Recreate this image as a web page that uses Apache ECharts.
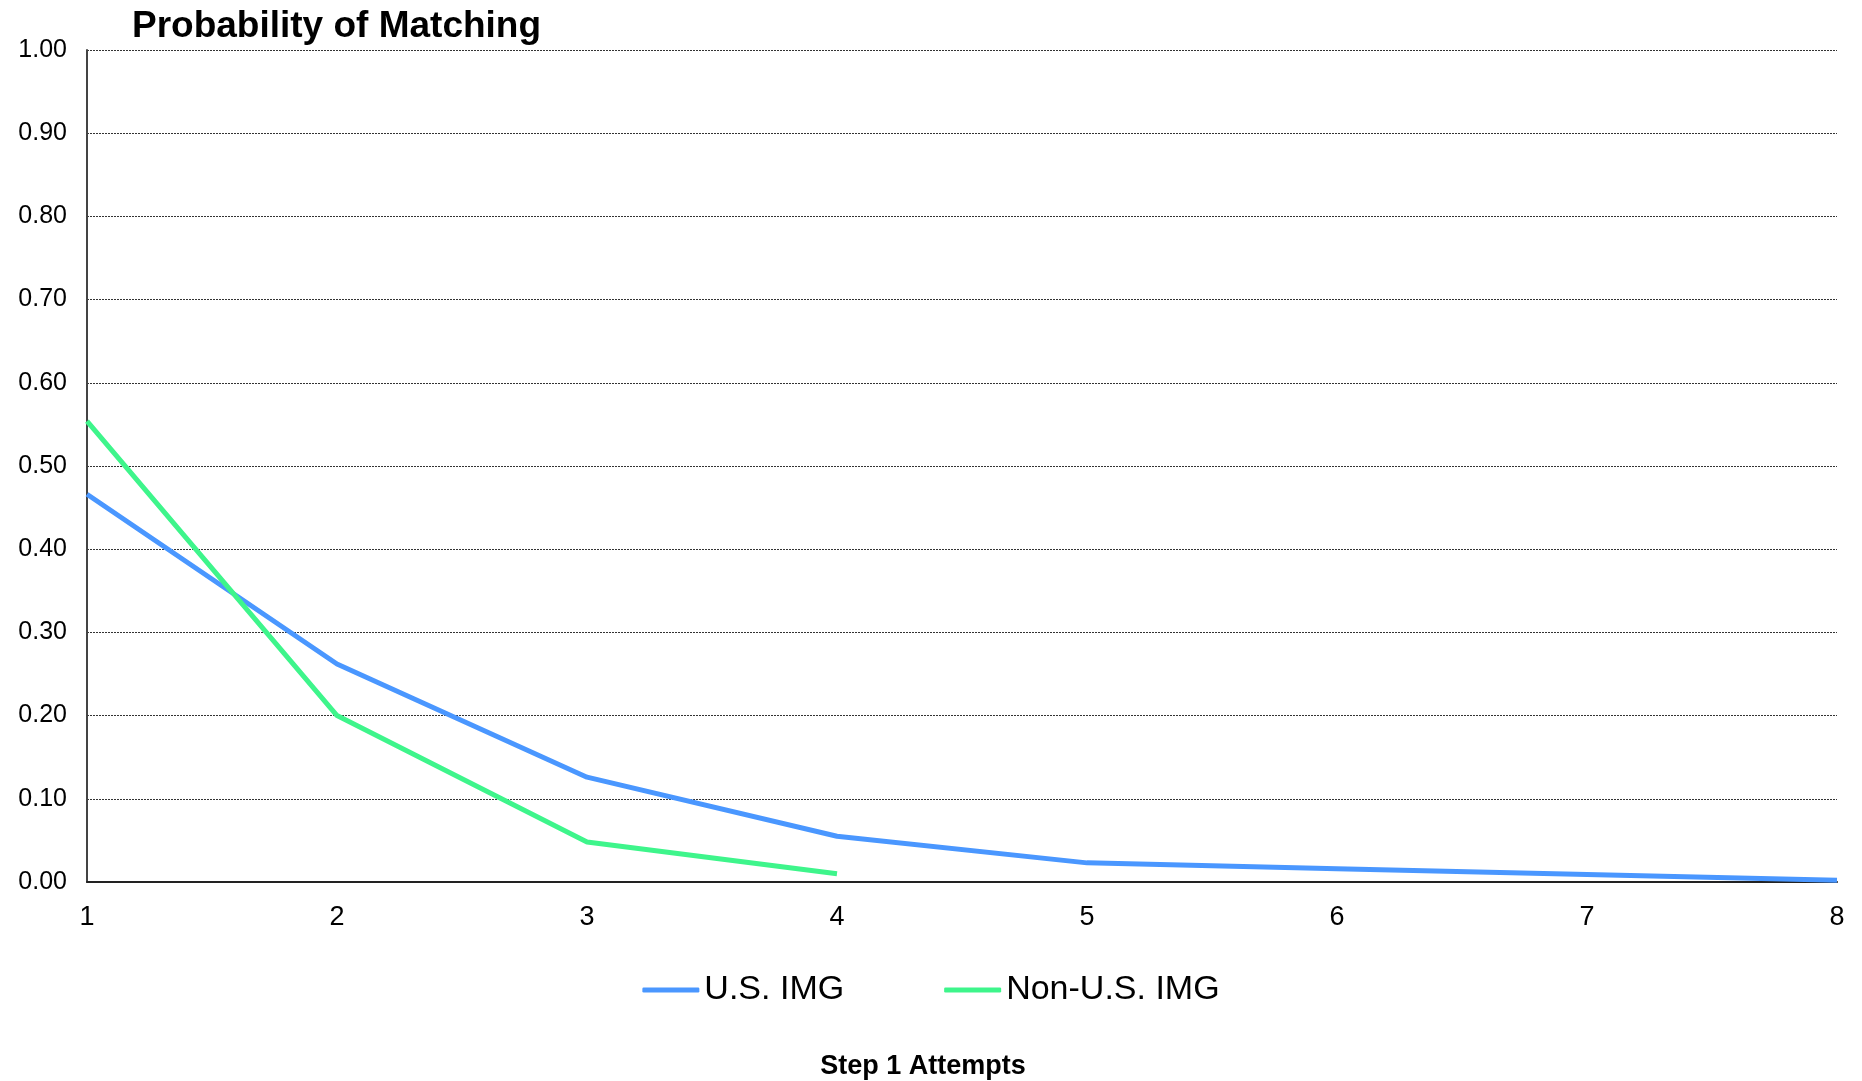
<!DOCTYPE html>
<html><head><meta charset="utf-8">
<script src="https://cdn.jsdelivr.net/npm/echarts@6/dist/echarts.min.js"></script>
<style>html,body{margin:0;padding:0;background:#fff}#c{width:1862px;height:1081px}</style>
</head><body><div id="c"></div>
<script>
const categories = ['1','2','3','4','5','6','7','8'];
const usImg = [0.466, 0.262, 0.126, 0.055, 0.023, 0.016, 0.009, 0.002];
const nonUsImg = [0.554, 0.200, 0.048, 0.010];
const seriesNames = ['U.S. IMG', 'Non-U.S. IMG'];
const font = 'Liberation Sans, Arial, sans-serif';
const chart = echarts.init(document.getElementById('c'));
chart.setOption({
  animation: false,
  backgroundColor: '#fff',
  title: [
    { text: 'Probability of Matching', left: 127, top: 3,
      textStyle: { fontFamily: font, fontSize: 37, fontWeight: 'bold', color: '#000' } },
    { text: 'Step 1 Attempts', left: 918, top: 1048, textAlign: 'center',
      textStyle: { fontFamily: font, fontSize: 27, fontWeight: 'bold', color: '#000' } }
  ],
  grid: { left: 87, right: 25, top: 50, bottom: 199, outerBoundsMode: 'none', containLabel: false },
  legend: { bottom: 69, left: 'center', itemWidth: 57, itemHeight: 5, itemGap: 100,
    icon: 'roundRect',
    textStyle: { fontFamily: font, fontSize: 34, color: '#000' },
    data: seriesNames },
  xAxis: { type: 'category', data: categories, boundaryGap: false,
    axisLine: { lineStyle: { color: '#222', width: 2 } },
    axisTick: { show: false },
    axisLabel: { fontFamily: font, fontSize: 27, color: '#000', margin: 22 } },
  yAxis: { type: 'value', min: 0, max: 1, interval: 0.1,
    axisLine: { show: true, lineStyle: { color: '#444', width: 2 } },
    axisTick: { show: false },
    axisLabel: { fontFamily: font, fontSize: 25, color: '#000', margin: 20,
      formatter: v => v.toFixed(2) },
    splitLine: { lineStyle: { color: '#333', type: [2, 1], width: 1 } } },
  series: [
    { name: seriesNames[0], type: 'line', data: usImg, showSymbol: false, symbol: 'none',
      lineStyle: { color: '#4a97ff', width: 5 }, itemStyle: { color: '#4a97ff' } },
    { name: seriesNames[1], type: 'line', data: nonUsImg, showSymbol: false, symbol: 'none',
      lineStyle: { color: '#3ef58b', width: 5 }, itemStyle: { color: '#3ef58b' } }
  ]
});
</script></body></html>
